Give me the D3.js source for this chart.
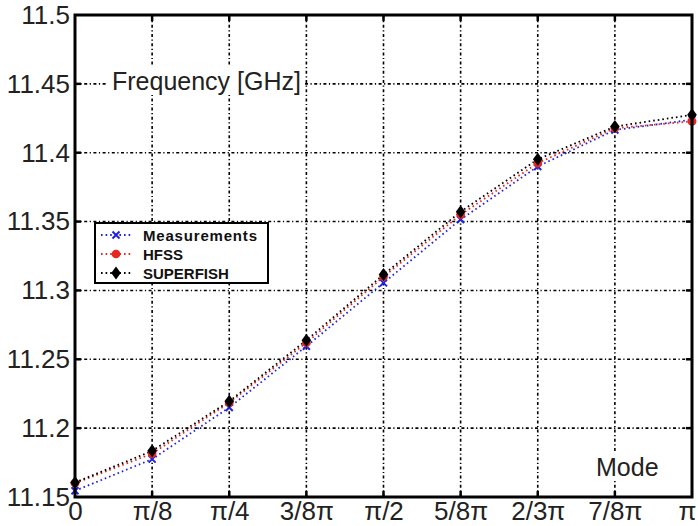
<!DOCTYPE html>
<html>
<head>
<meta charset="utf-8">
<script src="https://cdn.jsdelivr.net/npm/d3@7"></script>
<style>
  body { margin: 0; background: #fff; }
  svg { display: block; font-family: "Liberation Sans", Arial, sans-serif; }
</style>
</head>
<body>
<div id="chart"></div>
<script>
/* DATA */
const modes = ["0", "π/8", "π/4", "3/8π", "π/2", "5/8π", "2/3π", "7/8π", "π"];
const measurements = [11.1545, 11.1775, 11.2150, 11.2595, 11.3055, 11.3515, 11.3900, 11.4165, 11.4240];
const hfss = [11.1600, 11.1815, 11.2185, 11.2620, 11.3100, 11.3550, 11.3925, 11.4178, 11.4228];
const superfish = [11.1605, 11.1835, 11.2195, 11.2638, 11.3115, 11.3572, 11.3952, 11.4190, 11.4275];
const yTicks = [11.15, 11.2, 11.25, 11.3, 11.35, 11.4, 11.45, 11.5];
const seriesNames = ["Measurements", "HFSS", "SUPERFISH"];

/* CONSTANTS */
const width = 698,
  height = 526,
  margin = { top: 15, right: 6, bottom: 29, left: 75 };

const colors = { Measurements: "#1f22e6", HFSS: "#e6281e", SUPERFISH: "#000000" };

const svg = d3.select("#chart")
  .append("svg")
  .attr("width", width)
  .attr("height", height);

// + SCALES
const xScale = d3.scaleLinear()
  .domain([0, modes.length - 1])
  .range([margin.left, width - margin.right]);

const yScale = d3.scaleLinear()
  .domain([11.15, 11.5])
  .range([height - margin.bottom, margin.top]);

const x0 = margin.left, x1 = width - margin.right,
  y0 = height - margin.bottom, y1 = margin.top;

// + GRID
const grid = svg.append("g").attr("class", "grid")
  .attr("stroke", "#000")
  .attr("stroke-width", 1.6)
  .attr("stroke-dasharray", "3,2.5,1.2,2.5");

grid.selectAll(".vgrid")
  .data(d3.range(1, modes.length - 1))
  .join("line")
  .attr("class", "vgrid")
  .attr("x1", d => xScale(d)).attr("x2", d => xScale(d))
  .attr("y1", y0).attr("y2", y1);

grid.selectAll(".hgrid")
  .data(yTicks.slice(1, -1))
  .join("line")
  .attr("class", "hgrid")
  .attr("x1", x0).attr("x2", x1)
  .attr("y1", d => yScale(d)).attr("y2", d => yScale(d));

// + AXES (labels)
const xAxis = d3.axisBottom(xScale)
  .tickValues(d3.range(modes.length))
  .tickFormat(i => modes[i])
  .tickSize(0)
  .tickPadding(5);

const yAxis = d3.axisLeft(yScale)
  .tickValues(yTicks)
  .tickFormat(d => String(d))
  .tickSize(0)
  .tickPadding(5);

const xAxisGroup = svg.append("g")
  .attr("transform", `translate(0, ${y0})`)
  .call(xAxis);

const yAxisGroup = svg.append("g")
  .attr("transform", `translate(${x0}, 0)`)
  .call(yAxis);

[xAxisGroup, yAxisGroup].forEach(g => {
  g.select(".domain").remove();
  g.attr("font-family", null)
    .attr("font-size", 26);
  g.selectAll("text").attr("fill", "#222");
});
// keep the last label inside the page
xAxisGroup.selectAll("text").filter(d => d === modes.length - 1).attr("dx", -5);

// inward tick marks on all four sides
const ticks = svg.append("g").attr("stroke", "#000").attr("stroke-width", 2.5);
ticks.selectAll(".tb")
  .data(d3.range(1, modes.length - 1))
  .join(enter => {
    const g = enter.append("g");
    g.append("line").attr("x1", d => xScale(d)).attr("x2", d => xScale(d)).attr("y1", y0).attr("y2", y0 - 6);
    g.append("line").attr("x1", d => xScale(d)).attr("x2", d => xScale(d)).attr("y1", y1).attr("y2", y1 + 6);
    return g;
  });
ticks.selectAll(".lr")
  .data(yTicks.slice(1, -1))
  .join(enter => {
    const g = enter.append("g");
    g.append("line").attr("x1", x0).attr("x2", x0 + 6).attr("y1", d => yScale(d)).attr("y2", d => yScale(d));
    g.append("line").attr("x1", x1).attr("x2", x1 - 6).attr("y1", d => yScale(d)).attr("y2", d => yScale(d));
    return g;
  });

// + INNER LABELS
function boxedLabel(text, x, y) {
  const t = svg.append("text")
    .attr("x", x).attr("y", y)
    .attr("font-size", 25)
    .attr("fill", "#222")
    .text(text);
  const b = t.node().getBBox();
  svg.insert("rect", () => t.node())
    .attr("x", b.x - 4).attr("y", b.y)
    .attr("width", b.width + 8).attr("height", b.height)
    .attr("fill", "#fff");
}
boxedLabel("Frequency [GHz]", 112, 90);
boxedLabel("Mode", 596, 476);

// + LINES AND MARKERS
const lineGen = d3.line()
  .x((d, i) => xScale(i))
  .y(d => yScale(d));

const allSeries = [
  { name: "Measurements", values: measurements },
  { name: "HFSS", values: hfss },
  { name: "SUPERFISH", values: superfish }
];

svg.selectAll(".line")
  .data(allSeries)
  .join("path")
  .attr("class", "line")
  .attr("fill", "none")
  .attr("stroke", d => colors[d.name])
  .attr("stroke-width", 1.8)
  .attr("stroke-dasharray", "1.6,3")
  .attr("d", d => lineGen(d.values));

function drawMarker(sel, name) {
  if (name === "Measurements") {
    sel.append("path")
      .attr("d", "M-3.5,-3.5L3.5,3.5M-3.5,3.5L3.5,-3.5")
      .attr("stroke", colors[name])
      .attr("stroke-width", 2)
      .attr("fill", "none");
  } else if (name === "HFSS") {
    sel.append("path")
      .attr("d", d3.symbol(d3.symbolCircle, 60)())
      .attr("fill", colors[name]);
  } else {
    sel.append("path")
      .attr("d", "M0,-6.5L4.8,0L0,6.5L-4.8,0Z")
      .attr("fill", colors[name]);
  }
}

allSeries.forEach(s => {
  svg.selectAll(".m-" + s.name)
    .data(s.values)
    .join("g")
    .attr("class", "m-" + s.name)
    .attr("transform", (d, i) => `translate(${xScale(i)}, ${yScale(d)})`)
    .each(function () { drawMarker(d3.select(this), s.name); });
});

// + FRAME
svg.append("rect")
  .attr("x", x0).attr("y", y1)
  .attr("width", x1 - x0).attr("height", y0 - y1)
  .attr("fill", "none")
  .attr("stroke", "#000")
  .attr("stroke-width", 3);

// + LEGEND
const legend = svg.append("g").attr("transform", "translate(95, 223)");
legend.append("rect")
  .attr("width", 173).attr("height", 60)
  .attr("fill", "#fff")
  .attr("stroke", "#000")
  .attr("stroke-width", 2);

const rows = legend.selectAll(".row")
  .data(seriesNames)
  .join("g")
  .attr("class", "row")
  .attr("transform", (d, i) => `translate(0, ${12 + i * 19})`);

rows.append("line")
  .attr("x1", 6).attr("x2", 38)
  .attr("stroke", d => colors[d])
  .attr("stroke-width", 1.8)
  .attr("stroke-dasharray", "1.6,3");

rows.each(function (d) {
  const g = d3.select(this).append("g").attr("transform", "translate(21, 0)");
  drawMarker(g, d);
});

rows.append("text")
  .attr("x", 48)
  .attr("y", 5.5)
  .attr("font-size", 15)
  .attr("font-weight", "bold")
  .attr("fill", "#111")
  .attr("textLength", d => d === "Measurements" ? 114 : null)
  .text(d => d);
</script>
</body>
</html>
